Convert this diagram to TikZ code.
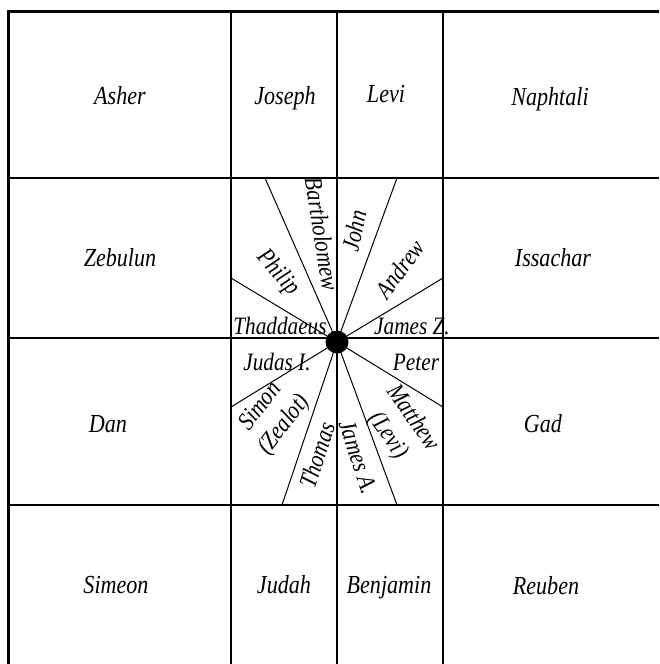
\documentclass[tikz,border=0pt]{standalone}
\usepackage{fontspec}
\setmainfont{Liberation Serif}[FakeStretch=0.85]
\begin{document}
\begin{tikzpicture}[x=1pt,y=-1pt,
  grid/.style={line width=1.1pt},
  border/.style={line width=3pt},
  ray/.style={line width=1pt},
  tribe/.style={font=\fontsize{26}{30}\selectfont\itshape, inner sep=0pt, anchor=base},
  apostle/.style={font=\fontsize{25}{30}\selectfont\itshape, inner sep=0pt, align=center}]
\useasboundingbox (0,0) rectangle (659,664);
% grid
\coordinate (tl) at (8.5,11);
\coordinate (tr) at (659,11);
\coordinate (bl) at (8.5,664);
\foreach \y/\n in {178/a,338/b,505/c} {
  \coordinate (h\n1) at (8.5,\y);
  \coordinate (h\n2) at (659,\y);
  \draw[grid] (h\n1) -- (h\n2);
}
\foreach \x/\n in {231/a,337/b,443/c} {
  \coordinate (v\n1) at (\x,11);
  \coordinate (v\n2) at (\x,664);
  \draw[grid] (v\n1) -- (v\n2);
}
\draw[border] (tr) -- (tl) -- (bl);
% rays
\coordinate (c) at (337,342);
\coordinate (r1) at (265,178);
\coordinate (r2) at (397,178);
\coordinate (r3) at (231,278);
\coordinate (r4) at (443,278);
\coordinate (r5) at (231,407);
\coordinate (r6) at (443,407);
\coordinate (r7) at (282,505);
\coordinate (r8) at (397,505);
\foreach \i in {1,...,8} { \draw[ray] (c) -- (r\i); }
\fill (c) circle[radius=11.5];
% tribes
\node[tribe] (asher) at (120,104) {Asher};
\node[tribe] (joseph) at (285,104) {Joseph};
\node[tribe] (levi) at (386,102) {Levi};
\node[tribe] (naphtali) at (550,105) {Naphtali};
\node[tribe] (zebulun) at (120,266) {Zebulun};
\node[tribe] (issachar) at (553,266) {Issachar};
\node[tribe] (dan) at (108,432) {Dan};
\node[tribe] (gad) at (543,432) {Gad};
\node[tribe] (simeon) at (116,593) {Simeon};
\node[tribe] (judah) at (284,593) {Judah};
\node[tribe] (benjamin) at (389,593) {Benjamin};
\node[tribe] (reuben) at (546,594) {Reuben};
% apostles
\node[apostle, anchor=base] (thaddaeus) at (280,334) {Thaddaeus};
\node[apostle, anchor=base] (jamesz) at (412,334) {James Z.};
\node[apostle, anchor=base] (judas) at (277,370) {Judas I.};
\node[apostle, anchor=base] (peter) at (416,370) {Peter};
\node[apostle, rotate=-81] (bartholomew) at (322,234) {Bartholomew};
\node[apostle, rotate=78] (john) at (354,231) {John};
\node[apostle, rotate=53] (andrew) at (400,269) {Andrew};
\node[apostle, rotate=-48] (philip) at (278,273) {Philip};
\node[apostle, rotate=52] (simon) at (273,416) {Simon\\(Zealot)};
\node[apostle, rotate=72] (thomas) at (317,455) {Thomas};
\node[apostle, rotate=-72] (jamesa) at (358,457) {James A.};
\node[apostle, rotate=-55] (matthew) at (400,427) {Matthew\\(Levi)};
\end{tikzpicture}
\end{document}
